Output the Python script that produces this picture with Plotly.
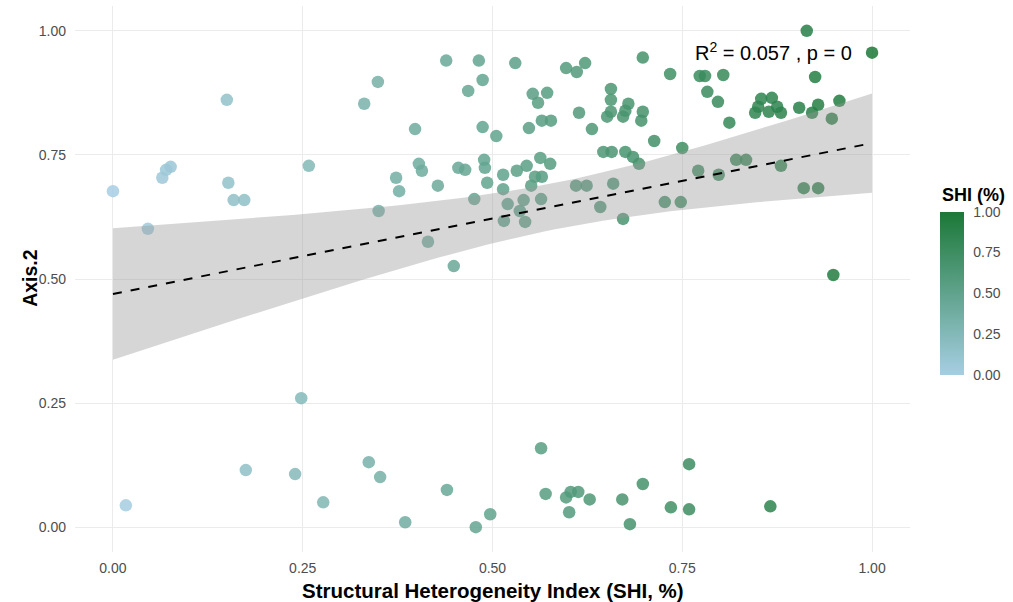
import numpy as np
import plotly.graph_objects as go

# Structural Heterogeneity Index (x, also colour) and Axis.2 (y)
shi = [0.000, 0.150, 0.065, 0.070, 0.076, 0.152, 0.159, 0.173, 0.046, 0.017,
       0.175, 0.240, 0.248, 0.277, 0.337, 0.352, 0.385, 0.440, 0.478, 0.497,
       0.258, 0.331, 0.349, 0.398, 0.350, 0.373, 0.377, 0.403, 0.407, 0.428,
       0.415, 0.449, 0.439, 0.482, 0.487, 0.468, 0.487, 0.505, 0.455, 0.464,
       0.489, 0.490, 0.493, 0.476, 0.514, 0.514, 0.515, 0.530, 0.532, 0.520,
       0.536, 0.543, 0.597, 0.622, 0.611, 0.698, 0.734, 0.773, 0.780, 0.783,
       0.804, 0.553, 0.572, 0.560, 0.656, 0.656, 0.679, 0.675, 0.656, 0.651,
       0.672, 0.698, 0.696, 0.614, 0.565, 0.577, 0.548, 0.631, 0.713, 0.750,
       0.646, 0.657, 0.675, 0.685, 0.693, 0.563, 0.576, 0.545, 0.556, 0.565,
       0.551, 0.610, 0.624, 0.659, 0.771, 0.541, 0.564, 0.642, 0.672, 0.727,
       0.748, 0.798, 0.821, 0.834, 0.880, 0.910, 0.929, 0.949, 0.797, 0.812,
       0.914, 1.000, 0.925, 0.854, 0.868, 0.850, 0.846, 0.864, 0.875, 0.880,
       0.904, 0.929, 0.921, 0.957, 0.947, 0.564, 0.570, 0.597, 0.603, 0.613,
       0.601, 0.628, 0.671, 0.681, 0.698, 0.735, 0.759, 0.759, 0.866]
axis2 = [0.677, 0.861, 0.704, 0.720, 0.726, 0.694, 0.659, 0.659, 0.601, 0.044,
         0.115, 0.107, 0.260, 0.050, 0.131, 0.101, 0.010, 0.075, 0.000, 0.026,
         0.728, 0.853, 0.897, 0.802, 0.637, 0.704, 0.677, 0.732, 0.718, 0.688,
         0.575, 0.526, 0.940, 0.940, 0.901, 0.879, 0.806, 0.788, 0.724, 0.720,
         0.740, 0.724, 0.694, 0.661, 0.710, 0.681, 0.617, 0.935, 0.718, 0.651,
         0.637, 0.615, 0.925, 0.935, 0.917, 0.946, 0.913, 0.909, 0.909, 0.877,
         0.911, 0.873, 0.875, 0.855, 0.883, 0.861, 0.853, 0.839, 0.837, 0.827,
         0.827, 0.837, 0.819, 0.835, 0.819, 0.819, 0.804, 0.802, 0.778, 0.764,
         0.756, 0.756, 0.756, 0.746, 0.732, 0.744, 0.732, 0.728, 0.706, 0.706,
         0.688, 0.688, 0.688, 0.692, 0.718, 0.659, 0.661, 0.645, 0.621, 0.655,
         0.655, 0.710, 0.740, 0.740, 0.728, 0.683, 0.683, 0.508, 0.857, 0.815,
         1.000, 0.956, 0.907, 0.863, 0.865, 0.847, 0.835, 0.837, 0.847, 0.835,
         0.845, 0.851, 0.835, 0.859, 0.823, 0.159, 0.067, 0.060, 0.071, 0.071,
         0.030, 0.056, 0.056, 0.006, 0.087, 0.040, 0.127, 0.036, 0.042]

tick_vals = [0.0, 0.25, 0.5, 0.75, 1.0]
tick_text = ["0.00", "0.25", "0.50", "0.75", "1.00"]
stat_label = "R<sup>2</sup> = 0.057 , p = 0"
x_title = "<b>Structural Heterogeneity Index (SHI, %)</b>"
y_title = "<b>Axis.2</b>"
cbar_title = "<b>SHI (%)</b>"
t_crit = 1.977  # 95% t quantile, df ~ 137

x = np.array(shi)
y = np.array(axis2)
n = len(x)
b1, b0 = np.polyfit(x, y, 1)
resid = y - (b0 + b1 * x)
s = np.sqrt(np.sum(resid ** 2) / (n - 2))
xm = x.mean()
sxx = np.sum((x - xm) ** 2)
xg = np.linspace(x.min(), x.max(), 80)
yg = b0 + b1 * xg
se = s * np.sqrt(1.0 / n + (xg - xm) ** 2 / sxx)
lo = yg - t_crit * se
hi = yg + t_crit * se

fig = go.Figure()
fig.add_trace(go.Scatter(
    x=shi, y=axis2, mode="markers",
    marker=dict(size=12.5, color=shi, cmin=0, cmax=1, opacity=0.85,
                colorscale=[[0, "#a6cee3"], [1, "#1b7837"]],
                line=dict(width=0),
                colorbar=dict(
                    tickvals=tick_vals, ticktext=tick_text,
                    tickfont=dict(size=14, color="#4d4d4d"),
                    thickness=24, lenmode="pixels", len=163,
                    x=1.036, xanchor="left", xpad=0,
                    y=0.474, yanchor="middle", ypad=0,
                    outlinewidth=0, ticks="outside", ticklen=7,
                    tickcolor="rgba(0,0,0,0)")),
    showlegend=False, hoverinfo="skip"))
fig.add_trace(go.Scatter(x=np.concatenate([xg, xg[::-1]]),
                         y=np.concatenate([hi, lo[::-1]]),
                         fill="toself", fillcolor="rgba(153,153,153,0.4)",
                         line=dict(width=0), mode="lines",
                         showlegend=False, hoverinfo="skip"))
fig.add_trace(go.Scatter(x=xg, y=yg, mode="lines",
                         line=dict(color="black", width=2, dash="dash"),
                         showlegend=False, hoverinfo="skip"))

fig.add_annotation(x=0.764, y=0.958, xref="x", yref="y", text=stat_label,
                   showarrow=False, xanchor="left", yanchor="middle",
                   font=dict(size=20, color="black"))
fig.add_annotation(x=0.5, y=-0.07, xref="paper", yref="paper", text=x_title,
                   showarrow=False, xanchor="center", yanchor="middle",
                   font=dict(size=20.5, color="black"))
fig.add_annotation(x=-0.054, y=0.502, xref="paper", yref="paper", text=y_title,
                   showarrow=False, xanchor="center", yanchor="middle",
                   textangle=-90, font=dict(size=19.5, color="black"))
fig.add_annotation(x=1.036, y=0.654, xref="paper", yref="paper", text=cbar_title,
                   showarrow=False, xanchor="left", yanchor="middle",
                   font=dict(size=18, color="black"))

axis_common = dict(tickvals=tick_vals, ticktext=tick_text, showgrid=True,
                   gridcolor="#ebebeb", gridwidth=1.1, zeroline=False,
                   showline=False, ticks="", automargin=False,
                   tickfont=dict(size=14, color="#4d4d4d"))
fig.update_xaxes(range=[-0.05, 1.05], ticklabelstandoff=6, **axis_common)
fig.update_yaxes(range=[-0.05, 1.05], ticklabelstandoff=8, **axis_common)
fig.update_layout(width=1013, height=602, plot_bgcolor="white",
                  paper_bgcolor="white",
                  font=dict(family="Liberation Sans, Arial, sans-serif"),
                  margin=dict(l=75, r=103, t=6, b=50))
fig.write_html("out.html")
